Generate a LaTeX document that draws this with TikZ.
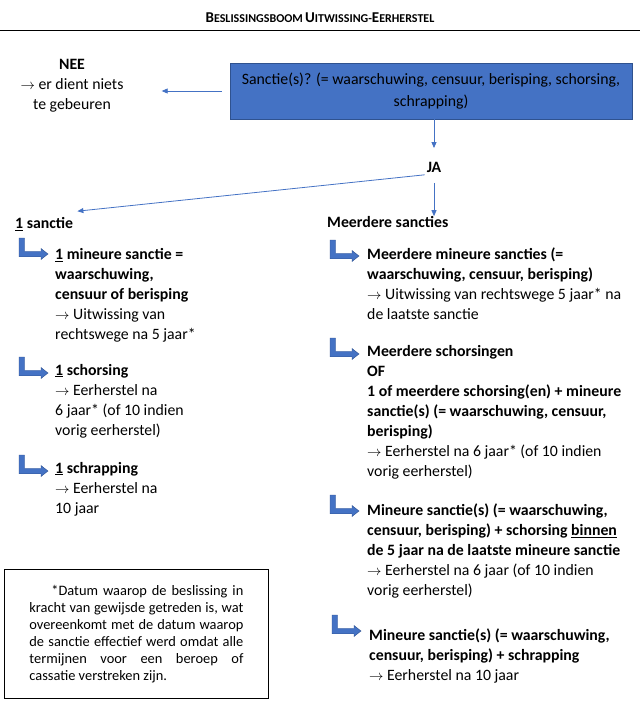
\documentclass[tikz,border=0pt]{standalone}
\usepackage{fontspec}
\setmainfont{Carlito}
\usetikzlibrary{arrows.meta,positioning}
\definecolor{officeblue}{HTML}{4472C4}
\definecolor{darkblue}{HTML}{2F528F}
\newcommand{\fsc}[2]{{\fontsize{15}{17}\selectfont #1}{\fontsize{12}{14}\selectfont #2}}
\newcommand{\arr}{$\rightarrow$}

\begin{document}
\begin{tikzpicture}[x=1pt, y=-1pt,
    txt/.style={anchor=north west, align=left, inner sep=0pt, font=\fontsize{15.8}{20}\selectfont},
    conn/.style={draw=officeblue, line width=0.8pt, -{Triangle[length=6pt,width=5pt]}},
    bentarrow/.pic={\path[fill=officeblue, draw=darkblue, line width=0.4pt]
        (0,0) -- (-7,-5.5) -- (-7,-2.75) -- (-23.5,-2.75) -- (-23.5,-16) -- (-29,-16)
        -- (-29,2.75) -- (-7,2.75) -- (-7,5.5) -- cycle;}
]
    \useasboundingbox (0,0) rectangle (640,706);

    % --- Title ---
    \node[font=\bfseries, inner sep=0pt] (title) at (320,18)
        {\fsc{B}{ESLISSINGSBOOM} \fsc{U}{ITWISSING-}\fsc{E}{ERHERSTEL}};
    \draw[line width=0.8pt] (0,30) -- (640,30);

    % --- Question ---
    \node[fill=officeblue, draw=darkblue, line width=0.8pt, minimum width=402pt, minimum height=56pt,
        align=center, font=\fontsize{15.8}{22}\selectfont] (box) at (431,91)
        {Sanctie(s)? (= waarschuwing, censuur, berisping, schorsing,\\schrapping)};
    \node[txt, anchor=north, align=center] (nee) at (72,59)
        {\textbf{NEE}\\\arr{} er dient niets\\te gebeuren};
    \node[txt, anchor=base, inner sep=2pt, font=\fontsize{15.8}{20}\selectfont\bfseries] (ja) at (434,172.5) {JA};

    \draw[conn, shorten <=8pt, shorten >=38pt] (box.west) -- (box.west -| nee.east);
    \draw[conn, shorten >=12pt] (box.south -| ja.north) -- (ja.north);

    % --- 1 sanctie ---
    \node[txt, anchor=base west] (een) at (15,228.5) {\textbf{\underline{1} sanctie}};
    \node[txt, anchor=base west] (meer) at (327,227.5) {\textbf{Meerdere sancties}};

    \draw[conn] (ja.south west) -- ([shift={(4,-6)}]een.north east);
    \draw[conn, shorten <=8pt] (ja.south) -- (ja.south |- meer.north);

    \pic at (48,254) {bentarrow};
    \node[txt] (een1) at (55,248)
        {\textbf{\underline{1} mineure sanctie =}\\\textbf{waarschuwing,}\\\textbf{censuur of berisping}\\
         \arr{} Uitwissing van\\rechtswege na 5 jaar*};
    \pic at (48,373) {bentarrow};
    \node[txt] (een2) at (55,364)
        {\textbf{\underline{1} schorsing}\\\arr{} Eerherstel na\\6 jaar* (of 10 indien\\vorig eerherstel)};
    \pic at (48,471) {bentarrow};
    \node[txt] (een3) at (55,462)
        {\textbf{\underline{1} schrapping}\\\arr{} Eerherstel na\\10 jaar};

    % --- Meerdere sancties ---
    \pic at (359,256) {bentarrow};
    \node[txt] (meer1) at (367,248)
        {\textbf{Meerdere mineure sancties (=}\\\textbf{waarschuwing, censuur, berisping)}\\
         \arr{} Uitwissing van rechtswege 5 jaar* na\\de laatste sanctie};
    \pic at (359,354) {bentarrow};
    \node[txt] (meer2) at (367,345)
        {\textbf{Meerdere schorsingen}\\\textbf{OF}\\\textbf{1 of meerdere schorsing(en) + mineure}\\
         \textbf{sanctie(s) (= waarschuwing, censuur,}\\\textbf{berisping)}\\
         \arr{} Eerherstel na 6 jaar* (of 10 indien\\vorig eerherstel)};
    \pic at (359,511) {bentarrow};
    \node[txt] (meer3) at (367,504)
        {\textbf{Mineure sanctie(s) (= waarschuwing,}\\\textbf{censuur, berisping) + schorsing \underline{binnen}}\\
         \textbf{de 5 jaar na de laatste mineure sanctie}\\
         \arr{} Eerherstel na 6 jaar (of 10 indien\\vorig eerherstel)};
    \pic at (361,631) {bentarrow};
    \node[txt] (meer4) at (369,629)
        {\textbf{Mineure sanctie(s) (= waarschuwing,}\\\textbf{censuur, berisping) + schrapping}\\
         \arr{} Eerherstel na 10 jaar};

    % --- Footnote ---
    \node[draw, line width=0.8pt, anchor=north west, text width=214pt, inner xsep=25pt,
        minimum height=129pt, align=justify, font=\fontsize{14.4}{17}\selectfont] (foot) at (4,569)
        {\hspace*{22pt}*Datum waarop de beslissing in\linebreak kracht van gewijsde getreden is, wat\linebreak
         overeenkomt met de datum waarop\linebreak de sanctie effectief werd omdat alle\linebreak
         termijnen voor een beroep of\linebreak cassatie verstreken zijn.\par\vspace*{10pt}};
\end{tikzpicture}
\end{document}
